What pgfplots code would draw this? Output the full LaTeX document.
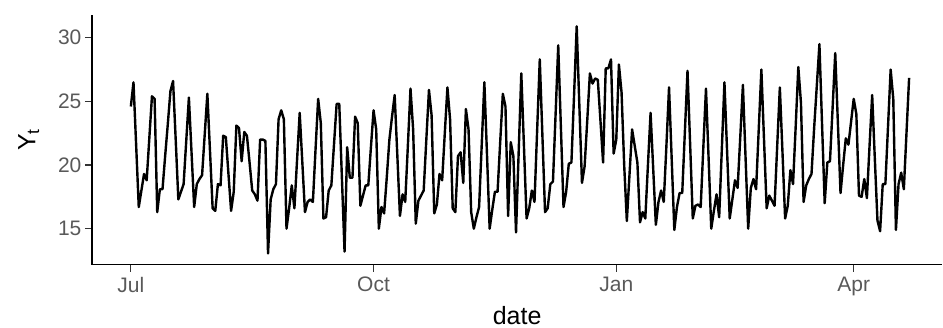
\documentclass[border=0pt]{standalone}
\usepackage{fontspec}
\setmainfont{Liberation Sans}
\usepackage{pgfplots}
\pgfplotsset{compat=1.18}
\usepackage{pgfplotstable}

\pgfplotstableread{
d y
0 24.6
1 26.5
2 21.6
3 16.7
4 18.0
5 19.3
6 18.8
7 22.1
8 25.4
9 25.2
10 16.3
11 18.1
12 18.1
13 20.7
14 23.2
15 25.8
16 26.6
17 22.0
18 17.3
19 17.9
20 18.5
21 21.9
22 25.3
23 21.0
24 16.7
25 18.5
26 18.9
27 19.2
28 22.4
29 25.6
30 21.1
31 16.6
32 16.4
33 18.5
34 18.4
35 22.3
36 22.2
37 19.3
38 16.4
39 17.9
40 23.1
41 22.9
42 20.3
43 22.6
44 22.3
45 20.2
46 18.0
47 17.7
48 17.2
49 22.0
50 22.0
51 21.9
52 13.05
53 17.3
54 18.1
55 18.5
56 23.6
57 24.3
58 23.6
59 15.0
60 16.6
61 18.4
62 16.6
63 20.4
64 24.1
65 20.2
66 16.3
67 17.1
68 17.3
69 17.1
70 21.2
71 25.2
72 23.3
73 15.8
74 15.9
75 18.0
76 18.4
77 21.6
78 24.8
79 24.8
80 19.0
81 13.2
82 21.4
83 19.0
84 19.0
85 23.8
86 23.3
87 16.8
88 17.6
89 18.4
90 18.4
91 21.4
92 24.3
93 22.8
94 15.0
95 16.7
96 16.2
97 19.0
98 22.0
99 23.8
100 25.5
101 20.8
102 16.0
103 17.7
104 17.1
105 21.5
106 26.0
107 22.8
108 15.4
109 17.2
110 17.6
111 18.0
112 22.0
113 25.9
114 23.9
115 16.2
116 16.9
117 19.3
118 18.8
119 22.5
120 26.1
121 23.6
122 16.6
123 16.3
124 20.7
125 21.0
126 18.6
127 24.4
128 22.8
129 16.3
130 15.0
131 15.9
132 16.7
133 21.6
134 26.5
135 20.8
136 15.0
137 16.5
138 17.9
139 17.9
140 21.8
141 25.6
142 24.6
143 16.0
144 21.8
145 20.7
146 14.7
147 21.0
148 27.2
149 21.5
150 15.8
151 16.6
152 18.0
153 17.1
154 22.7
155 28.3
156 22.3
157 16.3
158 16.6
159 18.5
160 18.7
161 24.0
162 29.4
163 23.0
164 16.7
165 17.9
166 20.1
167 20.2
168 25.5
169 30.9
170 24.7
171 18.6
172 19.9
173 23.5
174 27.2
175 26.4
176 26.8
177 26.7
178 23.5
179 20.2
180 27.6
181 27.6
182 28.3
183 20.9
184 22.0
185 27.9
186 25.7
187 20.0
188 15.6
189 19.2
190 22.8
191 21.5
192 20.2
193 15.5
194 16.3
195 15.8
196 20.0
197 24.1
198 19.7
199 15.3
200 17.1
201 18.0
202 17.1
203 21.5
204 26.1
205 20.5
206 14.9
207 16.7
208 17.8
209 17.8
210 22.6
211 27.4
212 21.6
213 15.8
214 16.8
215 16.9
216 16.7
217 21.4
218 26.0
219 20.5
220 15.0
221 16.4
222 17.7
223 15.9
224 21.2
225 26.5
226 21.1
227 15.8
228 17.3
229 18.8
230 18.2
231 22.2
232 26.3
233 20.6
234 15.0
235 18.2
236 18.9
237 18.1
238 22.8
239 27.5
240 22.0
241 16.6
242 17.6
243 17.2
244 16.8
245 21.5
246 26.1
247 21.0
248 15.8
249 16.8
250 19.6
251 18.5
252 23.0
253 27.7
254 24.9
255 17.1
256 18.4
257 18.9
258 19.3
259 22.9
260 26.2
261 29.5
262 23.2
263 17.0
264 20.2
265 20.3
266 24.5
267 28.8
268 23.3
269 17.8
270 20.0
271 22.1
272 21.6
273 23.4
274 25.2
275 24.0
276 17.6
277 17.5
278 18.9
279 17.4
280 21.5
281 25.5
282 20.5
283 15.65
284 14.8
285 18.5
286 18.5
287 23.0
288 27.5
289 25.2
290 14.9
291 18.5
292 19.4
293 18.1
294 22.5
295 26.85
}\datatable

\begin{document}
\begin{tikzpicture}
\begin{axis}[
  name=ax,
  scale only axis,
  width=851bp, height=250bp,
  xmin=-14.75, xmax=307.6,
  ymin=12.16, ymax=31.79,
  axis x line*=bottom, axis y line*=left,
  axis line style={line width=1.3bp, -, black},
  xtick={0,92,184,274},
  xticklabels={Jul,Oct,Jan,Apr},
  ytick={15,20,25,30},
  minor tick num=0,
  tick align=outside,
  major tick length=7bp,
  tick style={line width=1.3bp, color=black!80},
  ticklabel style={font=\fontsize{21bp}{24bp}\selectfont, text=black!65},
  xticklabel style={yshift=-2bp},
  /pgf/number format/assume math mode=true,
  xlabel={date},
  ylabel={Y\textsubscript{t}},
  label style={font=\fontsize{25bp}{30bp}\selectfont},
  xlabel style={yshift=-3bp},
  ylabel style={yshift=12bp},
]
\addplot[black, line width=2.4bp, line join=round] table[x=d,y=y]{\datatable};
\end{axis}
\path ([shift={(-92bp,-63bp)}]ax.south west) rectangle ([shift={(0bp,15bp)}]ax.north east);
\end{tikzpicture}
\end{document}
